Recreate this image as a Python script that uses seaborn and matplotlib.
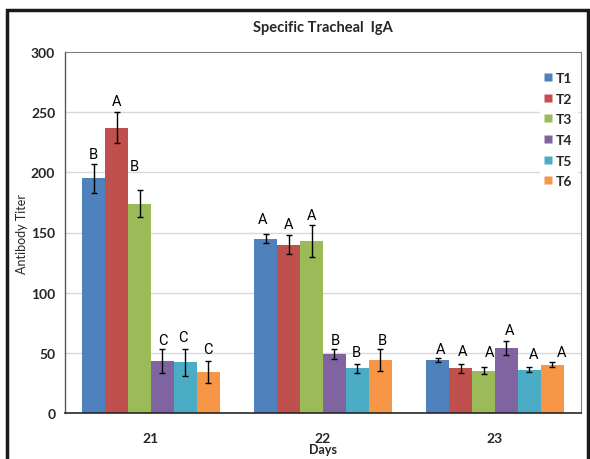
import numpy as np
import pandas as pd
import matplotlib
matplotlib.use("Agg")
import matplotlib.pyplot as plt
import seaborn as sns
from matplotlib.patches import Rectangle
from matplotlib.lines import Line2D
from matplotlib.container import BarContainer

days = ["21", "22", "23"]
treatments = ["T1", "T2", "T3", "T4", "T5", "T6"]
T1 = [195, 145, 44]
T2 = [237, 140, 37]
T3 = [174, 143, 35]
T4 = [43, 49, 54]
T5 = [42, 37, 36]
T6 = [34, 44, 40]
T1_err = [12, 4, 2]
T2_err = [13, 8, 4]
T3_err = [11, 13, 3]
T4_err = [10, 4, 6]
T5_err = [11, 4, 2]
T6_err = [9, 9, 2]
T1_sig = ["B", "A", "A"]
T2_sig = ["A", "A", "A"]
T3_sig = ["B", "A", "A"]
T4_sig = ["C", "B", "A"]
T5_sig = ["C", "B", "A"]
T6_sig = ["C", "B", "A"]
yticks = [0, 50, 100, 150, 200, 250, 300]

values = [T1, T2, T3, T4, T5, T6]
errors = [T1_err, T2_err, T3_err, T4_err, T5_err, T6_err]
sigs = [T1_sig, T2_sig, T3_sig, T4_sig, T5_sig, T6_sig]

# layout nudges for the letters (dx in pixels, dy in data units above error top)
nudge_dx = [[0, -3, 3], [0, 0, 1.5], [-5.5, 0, 6.5], [0.5, 1, 3.5], [-2.5, -1, 4.5], [0, 2, 9.5]]
nudge_dy = [[8, 12.5, 7.5], [9.5, 9, 10.5], [20, 8.5, 13], [8, 8, 9], [10.5, 10, 11], [10.5, 7.5, 8.5]]

colors = ["#4F81BD", "#C0504D", "#9BBB59", "#8064A2", "#4BACC6", "#F79646"]

rows = []
for t, vals in zip(treatments, values):
    for d, v in zip(days, vals):
        rows.append({"Days": d, "Treatment": t, "Titer": v})
df = pd.DataFrame(rows)

sns.set_style("white")
plt.rcParams["font.family"] = ["Lato", "DejaVu Sans"]

fig = plt.figure(figsize=(5.9, 4.6), dpi=100)
ax = fig.add_axes([65/590, 1 - 414/460, (581 - 65)/590, (414 - 53)/460])

sns.barplot(data=df, x="Days", y="Titer", hue="Treatment", order=days,
            hue_order=treatments, palette=colors, saturation=1, width=0.8,
            errorbar=None, edgecolor="none", linewidth=0, ax=ax, legend=False)

bar_conts = [c for c in ax.containers if isinstance(c, BarContainer)]
centers = [[p.get_x() + p.get_width() / 2 for p in c.patches] for c in bar_conts]

for i, xs in enumerate(centers):
    ax.errorbar(xs, values[i], yerr=errors[i], fmt="none", ecolor="black",
                elinewidth=1.0, capsize=2.5, capthick=1.0, zorder=5)

ax.set_xlim(-0.5, 2.5)
ax.set_ylim(0, 300)
xunit_per_px = 3.0 / (581 - 65)
for i, xs in enumerate(centers):
    for j, x0 in enumerate(xs):
        xc = x0 + nudge_dx[i][j] * xunit_per_px
        yt = values[i][j] + errors[i][j] + nudge_dy[i][j]
        ax.text(xc, yt, sigs[i][j], ha="center", va="center", fontsize=10.5,
                family=["Roboto", "DejaVu Sans"], fontstretch="condensed",
                color="black", zorder=6, transform=ax.transData)

ax.set_yticks(yticks)
ax.set_yticklabels([str(v) for v in yticks], fontweight="bold", fontsize=10)
ax.set_xticks(range(len(days)))
ax.set_xticklabels(days, fontweight="bold", fontsize=10)
ax.tick_params(axis="both", length=0)
ax.tick_params(axis="y", pad=7)
ax.tick_params(axis="x", pad=14)

for y in yticks[1:-1]:
    ax.axhline(y, color="#D9D9D9", linewidth=1.0, zorder=0)
ax.set_axisbelow(True)

for s in ["top", "right"]:
    ax.spines[s].set_color("#7F7F7F")
    ax.spines[s].set_linewidth(0.8)
ax.spines["left"].set_color("#595959")
ax.spines["left"].set_linewidth(1.0)
ax.spines["bottom"].set_color("#262626")
ax.spines["bottom"].set_linewidth(1.2)

ax.set_xlabel("Days", fontweight="bold", fontsize=9)
ax.xaxis.set_label_coords(0.5, (414 - 450) / 361, transform=ax.transAxes)
ax.xaxis.label.set_va("center")
ax.set_ylabel("Antibody Titer", fontsize=9)
ax.yaxis.set_label_coords((22 - 65) / 516, 0.5, transform=ax.transAxes)
ax.yaxis.label.set_va("center")
fig.text(323/590, 1 - 28/460, "Specific Tracheal  IgA", ha="center", va="center",
         fontweight="bold", fontsize=10.5)

handles = [Line2D([], [], marker="s", linestyle="none", markersize=6,
                  markerfacecolor=c, markeredgecolor="none") for c in colors]
leg = ax.legend(handles, treatments, loc="upper right", bbox_to_anchor=(1.005, 0.975),
                frameon=True, fancybox=False, framealpha=1, edgecolor="white",
                handlelength=0.6, handletextpad=0.25, labelspacing=0.62,
                borderpad=0.3, prop={"weight": "bold", "size": 10})

fig.patches.append(Rectangle((7/590, -0.05), (588 - 7)/590, 1.05 - 11/460,
                             transform=fig.transFigure, fill=False,
                             edgecolor="#1a1a1a", linewidth=2.5, clip_on=False))

fig.savefig("out.png", dpi=100)
